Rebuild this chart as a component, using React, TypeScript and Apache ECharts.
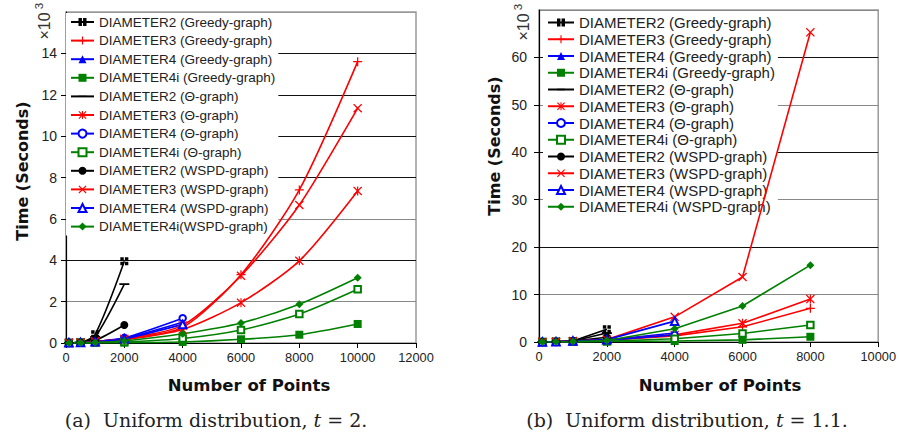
import { useEffect, useRef } from 'react';
import * as echarts from 'echarts';

// ---------- data (times in units of 10^3 seconds) ----------
const xPointsA = [100, 500, 1000, 2000, 4000, 6000, 8000, 10000];
const xPointsB = [100, 500, 1000, 2000, 4000, 6000, 8000];

const namesA = [
  'DIAMETER2 (Greedy-graph)', 'DIAMETER3 (Greedy-graph)', 'DIAMETER4 (Greedy-graph)', 'DIAMETER4i (Greedy-graph)',
  'DIAMETER2 (Θ-graph)', 'DIAMETER3 (Θ-graph)', 'DIAMETER4 (Θ-graph)', 'DIAMETER4i (Θ-graph)',
  'DIAMETER2 (WSPD-graph)', 'DIAMETER3 (WSPD-graph)', 'DIAMETER4 (WSPD-graph)', 'DIAMETER4i(WSPD-graph)',
];
const namesB = [
  'DIAMETER2 (Greedy-graph)', 'DIAMETER3 (Greedy-graph)', 'DIAMETER4 (Greedy-graph)', 'DIAMETER4i (Greedy-graph)',
  'DIAMETER2 (Θ-graph)', 'DIAMETER3 (Θ-graph)', 'DIAMETER4 (Θ-graph)', 'DIAMETER4i (Θ-graph)',
  'DIAMETER2 (WSPD-graph)', 'DIAMETER3 (WSPD-graph)', 'DIAMETER4 (WSPD-graph)', 'DIAMETER4i (WSPD-graph)',
];

// Panel (a): uniform distribution, t = 2
const d2GreedyA = [0.01, 0.03, 0.42, 3.95];
const d3GreedyA = [0.01, 0.02, 0.08, 0.2, 0.75, 3.3, 7.4, 13.6];
const d4GreedyA = [0.01, 0.02, 0.06, 0.22, 1.0];
const d4iGreedyA = [0, 0.01, 0.02, 0.02, 0.05, 0.18, 0.4, 0.92];
const d2ThetaA = [0.01, 0.03, 0.3, 2.85];
const d3ThetaA = [0.01, 0.02, 0.07, 0.15, 0.65, 1.95, 3.97, 7.35];
const d4ThetaA = [0.01, 0.02, 0.07, 0.25, 1.2];
const d4iThetaA = [0, 0.01, 0.02, 0.05, 0.22, 0.63, 1.4, 2.6];
const d2WspdA = [0.01, 0.02, 0.12, 0.87];
const d3WspdA = [0.01, 0.02, 0.08, 0.2, 0.85, 3.25, 6.67, 11.35];
const d4WspdA = [0.01, 0.02, 0.06, 0.2, 0.9];
const d4iWspdA = [0, 0.01, 0.03, 0.1, 0.45, 0.97, 1.87, 3.15];

// Panel (b): uniform distribution, t = 1.1
const d2GreedyB = [0.02, 0.05, 0.2, 2.7];
const d3GreedyB = [0.02, 0.05, 0.15, 0.4, 1.3, 3.2, 7.1];
const d4GreedyB = [0.02, 0.05, 0.15, 0.4, 1.9];
const d4iGreedyB = [0.01, 0.02, 0.05, 0.1, 0.2, 0.45, 1.1];
const d2ThetaB = [0.02, 0.05, 0.2, 1.9];
const d3ThetaB = [0.02, 0.05, 0.15, 0.4, 1.5, 3.95, 9.05];
const d4ThetaB = [0.02, 0.05, 0.15, 0.4, 1.5];
const d4iThetaB = [0.01, 0.03, 0.07, 0.15, 0.7, 1.8, 3.6];
const d2WspdB = [0.02, 0.05, 0.2, 1.0];
const d3WspdB = [0.02, 0.05, 0.2, 0.5, 5.3, 13.7, 65.3];
const d4WspdB = [0.02, 0.05, 0.2, 0.5, 4.4];
const d4iWspdB = [0.01, 0.03, 0.1, 0.3, 2.8, 7.6, 16.2];

const valuesA = [d2GreedyA, d3GreedyA, d4GreedyA, d4iGreedyA, d2ThetaA, d3ThetaA, d4ThetaA, d4iThetaA, d2WspdA, d3WspdA, d4WspdA, d4iWspdA];
const valuesB = [d2GreedyB, d3GreedyB, d4GreedyB, d4iGreedyB, d2ThetaB, d3ThetaB, d4ThetaB, d4iThetaB, d2WspdB, d3WspdB, d4WspdB, d4iWspdB];

// axis ranges
const xMaxA = 12000;
const xMaxB = 10000;
const xStep = 2000;
const yMaxA = 16;
const yStepA = 2;
const yMaxB = 70;
const yStepB = 10;

// ---------- styles ----------
const SYM_SQCROSS = 'path://M0,0H4.3V4.3H0Z M5.7,0H10V4.3H5.7Z M0,5.7H4.3V10H0Z M5.7,5.7H10V10H5.7Z';
const SYM_PLUS = 'path://M4.3,0H5.7V4.3H10V5.7H5.7V10H4.3V5.7H0V4.3H4.3Z';
const SYM_X = 'path://M0,1L1,0L5,4L9,0L10,1L6,5L10,9L9,10L5,6L1,10L0,9L4,5Z';
const SYM_STAR = 'path://M0,1L1,0L5,4L9,0L10,1L6,5L10,9L9,10L5,6L1,10L0,9L4,5Z M4.35,0H5.65V10H4.35Z';
const SYM_DASH = 'path://M0,0L0.01,0L0,0.01Z M0,4.1H10V5.9H0Z M10,10L9.99,10L10,9.99Z';

const BLACK = '#000000';
const RED = '#ff0000';
const BLUE = '#0000ff';
const GREEN = '#008000';

const STYLES = [
  { color: BLACK, symbol: SYM_SQCROSS, size: 8, empty: false },
  { color: RED, symbol: SYM_PLUS, size: 9, empty: false },
  { color: BLUE, symbol: 'triangle', size: 8, empty: false },
  { color: GREEN, symbol: 'rect', size: 8, empty: false },
  { color: BLACK, symbol: SYM_DASH, size: 10, empty: false },
  { color: RED, symbol: SYM_STAR, size: 9, empty: false },
  { color: BLUE, symbol: 'emptyCircle', size: 6.5, empty: true },
  { color: GREEN, symbol: 'emptyRect', size: 6.5, empty: true },
  { color: BLACK, symbol: 'circle', size: 8, empty: false },
  { color: RED, symbol: SYM_X, size: 9, empty: false },
  { color: BLUE, symbol: 'emptyTriangle', size: 7.5, empty: true },
  { color: GREEN, symbol: 'diamond', size: 8, empty: false },
];

const SANS = 'Liberation Sans';
const BOLD = 'DejaVu Sans';
const SERIF = 'DejaVu Serif';

function buildSeries(names: string[], values: number[][], xs: number[], idx: number, smooth: number | boolean) {
  return names.map((name, i) => {
    const st = STYLES[i];
    return {
      name,
      type: 'line',
      xAxisIndex: idx,
      yAxisIndex: idx,
      data: values[i].map((v, j) => [xs[j], v]),
      symbol: st.symbol,
      symbolSize: st.size,
      smooth,
      z: 3,
      lineStyle: { color: st.color, width: 1.6 },
      itemStyle: st.empty ? { color: st.color, borderColor: st.color, borderWidth: 1.2 } : { color: st.color },
      emphasis: { disabled: true },
    };
  });
}

function xAxisCfg(idx: number, max: number) {
  return {
    type: 'value',
    gridIndex: idx,
    min: 0,
    max,
    interval: xStep,
    axisLine: { show: true, onZero: false, lineStyle: { color: '#000', width: 1.2 } },
    axisTick: { show: true, inside: false, length: 5, lineStyle: { color: '#000' } },
    axisLabel: {
      fontFamily: SANS, fontSize: 12.8, color: '#222', margin: 8, showMaxLabel: true, showMinLabel: true,
      formatter: (v: number) => String(v),
    },
    splitLine: { show: false },
  };
}

function yAxisCfg(idx: number, max: number, step: number, colors: string[], margin: number) {
  return {
    type: 'value',
    gridIndex: idx,
    min: 0,
    max,
    interval: step,
    axisLine: { show: true, onZero: false, lineStyle: { color: '#000', width: 1.2 } },
    axisTick: { show: true, inside: false, length: 5, lineStyle: { color: '#000' } },
    axisLabel: { fontFamily: SANS, fontSize: 14, color: '#222', margin, showMaxLabel: false, formatter: (v: number) => String(v) },
    splitLine: { show: true, lineStyle: { color: colors, width: 1 } },
  };
}

function legendCfg(names: string[], left: number, top: number, fontSize: number, lineHeight: number, gap: number, itemWidth: number) {
  return {
    orient: 'vertical',
    left,
    top,
    padding: [2, 3, 2, 4],
    backgroundColor: '#ffffff',
    itemWidth,
    itemHeight: 10,
    itemGap: gap,
    selectedMode: false,
    z: 1,
    data: names,
    textStyle: { fontFamily: SANS, fontSize, color: '#222', lineHeight },
  };
}

export default function App() {
  const ref = useRef<HTMLDivElement>(null);
  useEffect(() => {
    if (!ref.current) return;
    const chart = echarts.init(ref.current, null, { renderer: 'svg' });
    const gridCfg = { show: true, borderColor: '#9a9a9a', borderWidth: 1.5, backgroundColor: '#fff' };
    const option: any = {
      animation: false,
      backgroundColor: '#ffffff',
      grid: [
        { ...gridCfg, left: 66, top: 12, width: 350, height: 331 },
        { ...gridCfg, left: 539, top: 10, width: 344, height: 332 },
      ],
      xAxis: [xAxisCfg(0, xMaxA), xAxisCfg(1, xMaxB)],
      yAxis: [
        yAxisCfg(0, yMaxA, yStepA, ['#000', '#888', '#111', '#888', '#111', '#111', '#111', '#111', '#999'], 9),
        yAxisCfg(1, yMaxB, yStepB, ['#111', '#888'], 12),
      ],
      legend: [
        legendCfg(namesA, 66, 13, 13.5, 14, 4.6, 23),
        legendCfg(namesB, 543, 13, 15, 15, 1.75, 26),
      ],
      series: [
        ...buildSeries(namesA, valuesA, xPointsA, 0, 0.25),
        ...buildSeries(namesB, valuesB, xPointsB, 1, false),
      ],
      graphic: [
        { type: 'text', x: 22, y: 171, rotation: Math.PI / 2, z: 10,
          style: { text: 'Time (Seconds)', fontFamily: BOLD, fontWeight: 'bold', fontSize: 16, fill: '#111', align: 'center', verticalAlign: 'middle' } },
        { type: 'text', x: 494, y: 146, rotation: Math.PI / 2, z: 10,
          style: { text: 'Time (Seconds)', fontFamily: BOLD, fontWeight: 'bold', fontSize: 16, fill: '#111', align: 'center', verticalAlign: 'middle' } },
        { type: 'text', x: 249, y: 385, z: 10,
          style: { text: 'Number of Points', fontFamily: BOLD, fontWeight: 'bold', fontSize: 16.5, fill: '#111', align: 'center', verticalAlign: 'middle' } },
        { type: 'text', x: 720, y: 385, z: 10,
          style: { text: 'Number of Points', fontFamily: BOLD, fontWeight: 'bold', fontSize: 16.5, fill: '#111', align: 'center', verticalAlign: 'middle' } },
        { type: 'text', x: 44, y: 26, rotation: Math.PI / 2, z: 10,
          style: { text: '×10', fontFamily: SANS, fontSize: 16, fill: '#333', align: 'center', verticalAlign: 'middle' } },
        { type: 'text', x: 38.5, y: 6, rotation: Math.PI / 2, z: 10,
          style: { text: '3', fontFamily: SANS, fontSize: 11.5, fill: '#333', align: 'center', verticalAlign: 'middle' } },
        { type: 'text', x: 523, y: 27, rotation: Math.PI / 2, z: 10,
          style: { text: '×10', fontFamily: SANS, fontSize: 16, fill: '#333', align: 'center', verticalAlign: 'middle' } },
        { type: 'text', x: 517.5, y: 7, rotation: Math.PI / 2, z: 10,
          style: { text: '3', fontFamily: SANS, fontSize: 11.5, fill: '#333', align: 'center', verticalAlign: 'middle' } },
        { type: 'text', x: 216, y: 420, z: 10,
          style: { text: '(a)  Uniform distribution, {it|t} = 2.', fontFamily: SERIF, fontSize: 19, fill: '#222', align: 'center', verticalAlign: 'middle',
            rich: { it: { fontFamily: SERIF, fontStyle: 'italic', fontSize: 19, fill: '#222' } } } },
        { type: 'text', x: 687, y: 420, z: 10,
          style: { text: '(b)  Uniform distribution, {it|t} = 1.1.', fontFamily: SERIF, fontSize: 19, fill: '#222', align: 'center', verticalAlign: 'middle',
            rich: { it: { fontFamily: SERIF, fontStyle: 'italic', fontSize: 19, fill: '#222' } } } },
      ],
    };
    chart.setOption(option);
    return () => chart.dispose();
  }, []);
  return <div ref={ref} style={{ position: 'fixed', left: 0, top: 0, width: 899, height: 434 }} />;
}
